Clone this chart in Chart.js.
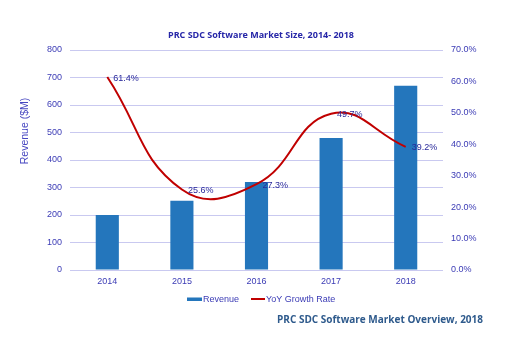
<!DOCTYPE html>
<html>
<head>
<meta charset="utf-8">
<script src="https://cdn.jsdelivr.net/npm/chart.js@4/dist/chart.umd.min.js"></script>
<style>
  html, body { margin: 0; padding: 0; background: #fff; }
  #wrap { width: 516px; height: 337px; }
</style>
</head>
<body>
<div id="wrap"><canvas id="marketChart" width="516" height="337"></canvas></div>
<script>
// data
var years = ['2014', '2015', '2016', '2017', '2018'];
var revenue = [200, 252, 320, 480, 670];
var growthRate = [61.4, 25.6, 27.3, 49.7, 39.2];

var tickColor = '#3b3bb5';
var gridColor = '#c9c9f0';

// title, axis title, legend, footer and point labels
var extras = {
  id: 'extras',
  afterDraw: function (chart) {
    var c = chart.ctx;
    c.save();
    c.textBaseline = 'middle';

    c.fillStyle = '#2626a8';
    c.font = 'bold 9px "Open Sans"';
    c.textAlign = 'center';
    c.fillText('PRC SDC Software Market Size, 2014- 2018', 261, 35);

    c.save();
    c.translate(25, 131);
    c.rotate(-Math.PI / 2);
    c.fillStyle = '#4646c0';
    c.font = '10.5px "Liberation Sans"';
    c.fillText('Revenue ($M)', 0, 0);
    c.restore();

    // point labels
    var meta = chart.getDatasetMeta(1);
    c.fillStyle = '#28289a';
    c.font = '9px "Liberation Sans"';
    c.textAlign = 'left';
    meta.data.forEach(function (pt, i) {
      c.fillText(growthRate[i].toFixed(1) + '%', pt.x + 6, pt.y + 1);
    });

    // legend
    c.fillStyle = '#2476bc';
    c.fillRect(187, 297.5, 15, 3.5);
    c.fillStyle = tickColor;
    c.fillText('Revenue', 203, 299.5);
    c.strokeStyle = '#c00000';
    c.lineWidth = 2;
    c.beginPath();
    c.moveTo(251, 299);
    c.lineTo(265, 299);
    c.stroke();
    c.fillStyle = tickColor;
    c.fillText('YoY Growth Rate', 266, 299.5);

    // footer
    c.fillStyle = '#2e5a8c';
    c.font = 'bold 10px "Open Sans"';
    c.textAlign = 'right';
    c.fillText('PRC SDC Software Market Overview, 2018', 483, 320);
    c.restore();
  }
};

var ctx = document.getElementById('marketChart').getContext('2d');
var chart = new Chart(ctx, {
  type: 'bar',
  data: {
    labels: years,
    datasets: [{
      type: 'bar',
      label: 'Revenue',
      data: revenue,
      backgroundColor: '#2476bc',
      borderWidth: 0,
      barPercentage: 1,
      categoryPercentage: 0.31,
      yAxisID: 'y',
      order: 2
    }, {
      type: 'line',
      label: 'YoY Growth Rate',
      data: growthRate,
      borderColor: '#c00000',
      borderWidth: 2,
      pointRadius: 0,
      tension: 0.45,
      fill: false,
      yAxisID: 'y1',
      order: 1
    }]
  },
  options: {
    responsive: false,
    animation: false,
    layout: { padding: { top: 50, left: 0, right: 0, bottom: 0 } },
    plugins: {
      legend: { display: false },
      title: { display: false },
      tooltip: { enabled: false }
    },
    scales: {
      x: {
        grid: { display: false, drawTicks: false },
        border: { display: false },
        ticks: { color: tickColor, font: { family: 'Liberation Sans', size: 9 }, padding: 6 },
        afterFit: function (s) { s.height = 67; }
      },
      y: {
        position: 'left',
        min: 0, max: 800,
        ticks: { stepSize: 100, color: tickColor, font: { family: 'Liberation Sans', size: 9 }, padding: 8 },
        grid: { color: gridColor, lineWidth: 1, drawTicks: false },
        border: { display: false },
        afterFit: function (s) { s.width = 70; }
      },
      y1: {
        position: 'right',
        min: 0, max: 70,
        ticks: {
          stepSize: 10, color: tickColor, font: { family: 'Liberation Sans', size: 9 }, padding: 8,
          callback: function (v) { return v.toFixed(1) + '%'; }
        },
        grid: { display: false, drawTicks: false },
        border: { display: false },
        afterFit: function (s) { s.width = 73; }
      }
    }
  },
  plugins: [extras]
});
</script>
</body>
</html>
